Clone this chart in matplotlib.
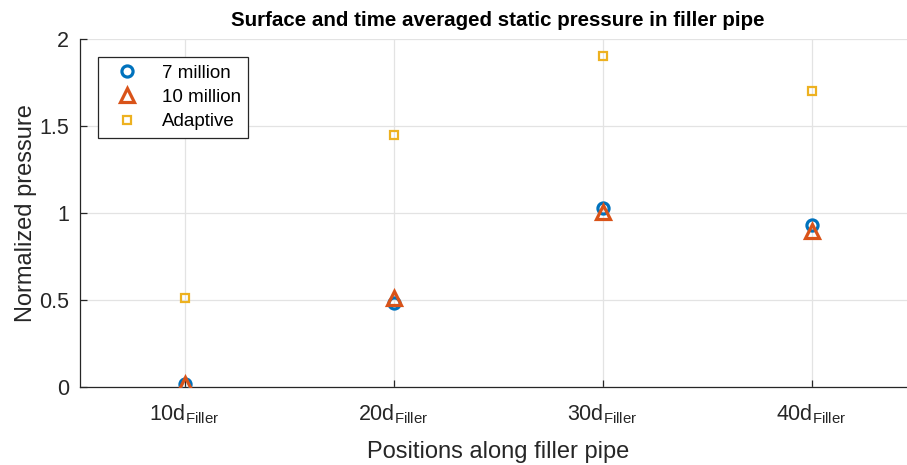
import matplotlib
matplotlib.use("Agg")
import matplotlib.pyplot as plt

positions = [1, 2, 3, 4]
tick_labels = [r"10d$_{\mathrm{Filler}}$", r"20d$_{\mathrm{Filler}}$",
               r"30d$_{\mathrm{Filler}}$", r"40d$_{\mathrm{Filler}}$"]
seven_million = [0.02, 0.48, 1.03, 0.93]
ten_million = [0.02, 0.51, 1.005, 0.895]
adaptive = [0.51, 1.45, 1.90, 1.70]

plt.rcParams['font.family'] = ['Liberation Sans', 'DejaVu Sans']
plt.rcParams['mathtext.fontset'] = 'custom'
plt.rcParams['mathtext.rm'] = 'Liberation Sans'
plt.rcParams['mathtext.it'] = 'Liberation Sans:italic'
plt.rcParams['mathtext.bf'] = 'Liberation Sans:bold'

axc = '#262626'
fig = plt.figure(figsize=(9.07, 4.65), dpi=100)
ax = fig.add_axes([80/907, 78/465, 836/907, 348/465])

ax.plot(positions, seven_million, 'o', ls='none', mfc='none', mec='#0072BD',
        ms=8, mew=2.3, label='7 million', zorder=3)
ax.plot(positions, ten_million, '^', ls='none', mfc='none', mec='#D95319',
        ms=10, mew=2.3, label='10 million', zorder=4)
ax.plot(positions, adaptive, 's', ls='none', mfc='none', mec='#EDB120',
        ms=6, mew=1.6, label='Adaptive', zorder=3)

ax.set_xlim(0.5, 4.5)
ax.set_ylim(0, 2)
ax.set_xticks(positions)
ax.set_xticklabels(tick_labels)
ax.set_yticks([0, 0.5, 1, 1.5, 2])
ax.set_yticklabels(['0', '0.5', '1', '1.5', '2'])
ax.grid(True, color='#e3e3e3', lw=0.9)
ax.set_axisbelow(True)
for s in ['top', 'right']:
    ax.spines[s].set_visible(False)
for s in ['left', 'bottom']:
    ax.spines[s].set_color(axc)
    ax.spines[s].set_linewidth(0.9)
ax.tick_params(direction='in', length=5, width=0.9, colors=axc, labelsize=15.5,
               labelcolor=axc)
ax.tick_params(axis='x', pad=11)
ax.tick_params(axis='y', pad=8)
ax.set_xlabel('Positions along filler pipe', fontsize=17, color=axc, labelpad=11)
ax.set_ylabel('Normalized pressure', fontsize=17, color=axc, labelpad=1)
ax.set_title('Surface and time averaged static pressure in filler pipe',
             fontsize=14.8, fontweight='bold', color='black', pad=9)

leg = ax.legend(loc='upper left', bbox_to_anchor=(18/836, 1 - 18/348),
                fancybox=False, edgecolor=axc, framealpha=1, fontsize=13.5,
                borderpad=0.4, handletextpad=0.7, labelspacing=0.38,
                handlelength=2.3, borderaxespad=0)
leg.get_frame().set_linewidth(0.9)

fig.savefig('out.png', dpi=100)
